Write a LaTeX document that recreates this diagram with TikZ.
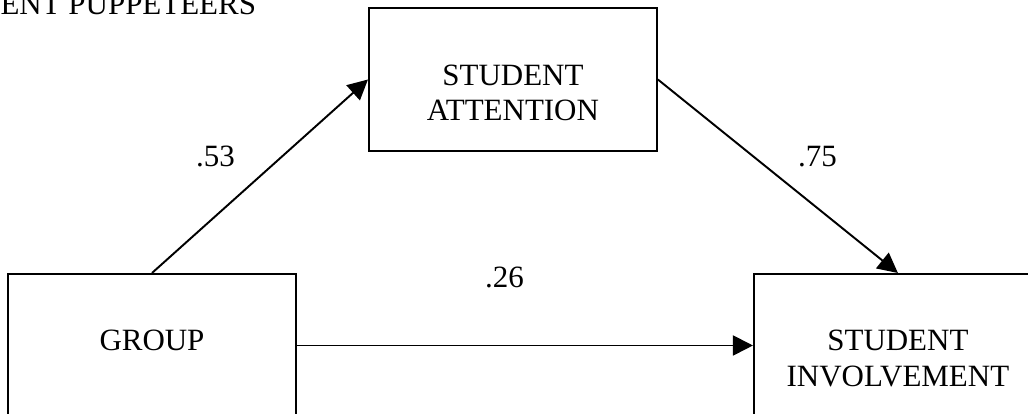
\documentclass[tikz,border=0pt]{standalone}
\usepackage{fontspec}
\setmainfont{Liberation Serif}
\usepackage{tikz}
\usetikzlibrary{arrows.meta,positioning}
\definecolor{corlinha}{RGB}{0,0,0}

\begin{document}
\begin{tikzpicture}[
  node distance=1.648cm and 0.967cm,
  font=\fontsize{12}{13.9}\selectfont,
  varbox/.style={rectangle, draw=corlinha, line width=0.75pt,
                 inner xsep=0pt, inner ysep=0pt, text width=3.922cm,
                 text height=1.049cm, text depth=0.899cm, align=center},
  coef/.style={inner sep=0pt},
  seta/.style={-{Triangle[length=7.75pt, width=7.75pt]}, line width=0.75pt, color=corlinha}
]
  \useasboundingbox (0,0) rectangle (14,-5.625);
  \node[anchor=base west, inner sep=0pt] (titulo) at (0,-0.204) {ENT PUPPETEERS};
  \node[varbox] (group) at (2.070,-4.705) {GROUP};
  \node[varbox, right=6.210cm of group] (involv) {STUDENT\\ INVOLVEMENT};
  \node[varbox, above right=of group] (attn) {STUDENT\\ ATTENTION};

  \draw[seta] (group.north) -- node[coef, xshift=-0.606cm, yshift=0.266cm] (c53) {.53} (attn.west);
  \draw[seta] (attn.east) -- node[coef, xshift=0.538cm, yshift=0.266cm] (c75) {.75} (involv.north);
  \draw[seta] (group.east) -- node[coef, xshift=-0.279cm, yshift=0.929cm] (c26) {.26} (involv.west);
\end{tikzpicture}
\end{document}
